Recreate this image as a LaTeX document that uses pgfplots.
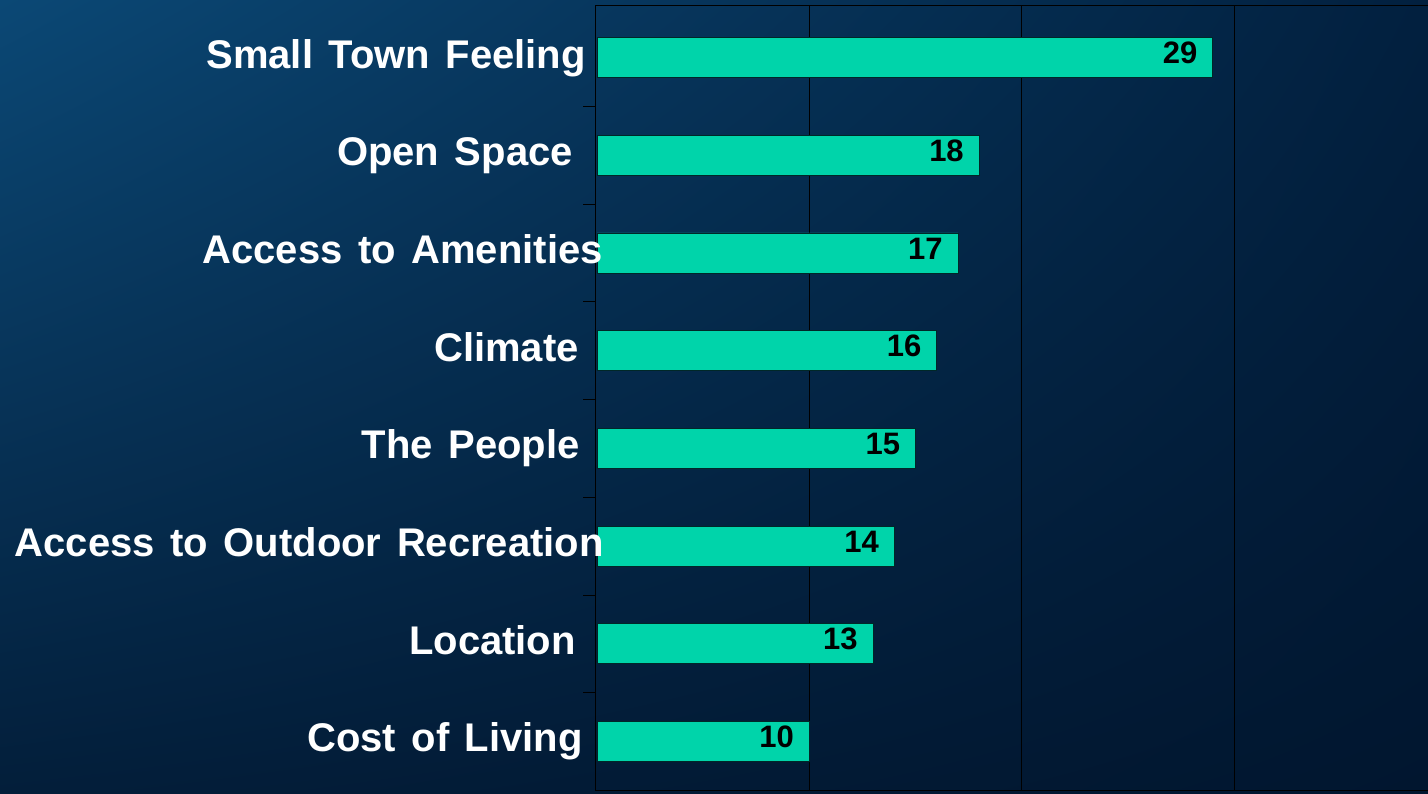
\documentclass[border=0pt]{standalone}
\usepackage{pgfplots}
\pgfplotsset{compat=1.18}
\usetikzlibrary{shadings}
\usepackage{fontspec}
\setmainfont{Liberation Sans}[WordSpace=1.4]
\definecolor{barfill}{RGB}{0,212,170}
\definecolor{bgTL}{RGB}{11,72,117}
\definecolor{bgTR}{RGB}{2,32,63}
\definecolor{bgBL}{RGB}{3,30,58}
\definecolor{bgBR}{RGB}{1,22,47}
\pgfplotsset{
  commonframe/.style={
    at={(595pt,3.65pt)}, anchor=south west,
    x=21.23pt, y=97.7pt,
    xmin=-0.094, xmax=39.4, ymin=-0.5, ymax=7.53,
  }
}
\begin{document}
\begin{tikzpicture}
\useasboundingbox (0,0) rectangle (1428pt,794pt);
\clip (0,0) rectangle (1428pt,794pt);
\shade[upper left=bgTL, upper right=bgTR, lower left=bgBL, lower right=bgBR] (0,0) rectangle (1428pt,794pt);
\begin{axis}[
  commonframe,
  xbar, bar width=40pt,
  axis line style={black, line width=1pt},
  xtick={10,20,30}, xticklabels={}, xmajorgrids,
  major grid style={black, line width=0.8pt},
  major x tick style={draw=none},
  ytick={0,...,7}, yticklabels={},
  major y tick style={draw=none},
  minor ytick={0.5,1.5,...,6.5},
  minor tick length=12pt,
  tick align=outside,
  minor y tick style={black, line width=0.8pt},
  /pgf/number format/assume math mode=true,
  nodes near coords,
  nodes near coords style={anchor=east, inner sep=0pt, xshift=-15pt, yshift=4.5pt,
    font=\fontsize{31}{31}\selectfont\bfseries, text=black},
  clip=false,
]
\addplot[fill=barfill, draw={rgb,255:red,0;green,40;blue,40}, line width=0.8pt]
  coordinates {(10,0) (13,1) (14,2) (15,3) (16,4) (17,5) (18,6) (29,7)};
\end{axis}
\begin{axis}[
  commonframe,
  hide x axis,
  axis y line*=left,
  y axis line style={draw=none},
  xtick=\empty,
  ytick={0,...,7},
  major y tick style={draw=none},
  yticklabels={
    {Cost of Living\kern3pt},
    {Location\kern10pt},
    {Access to Outdoor Recreation\kern-18pt},
    {The People\kern6pt},
    {Climate\kern7pt},
    {Access to Amenities\kern-17pt},
    {Open Space\kern13pt},
    {Small Town Feeling}},
  yticklabel style={anchor=base east, inner sep=0pt, xshift=-9pt, yshift=-10.5pt,
    font=\fontsize{40}{40}\selectfont\bfseries, text=white},
]
\end{axis}
\end{tikzpicture}
\end{document}
